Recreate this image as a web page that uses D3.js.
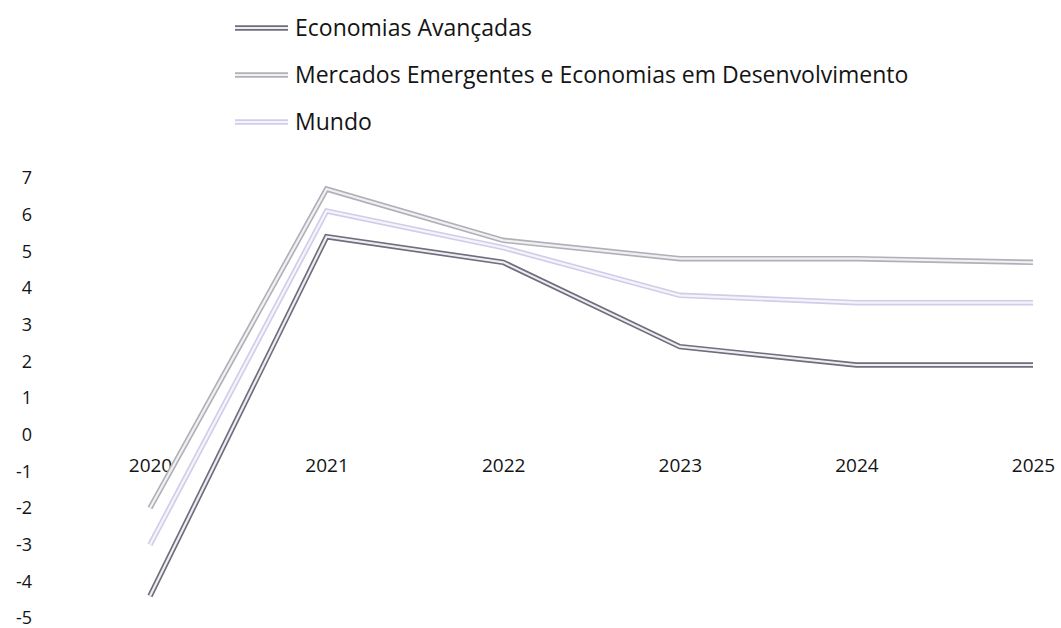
<!DOCTYPE html>
<html>
<head>
<meta charset="utf-8">
<script src="https://cdn.jsdelivr.net/npm/d3@7"></script>
<style>
  html, body { margin: 0; padding: 0; background: #fff; }
  svg { display: block; }
  text { font-family: "Open Sans", "Noto Sans", sans-serif; fill: #141414; }
</style>
</head>
<body>
<svg id="chart" width="1061" height="628"></svg>
<script>
// Crescimento do PIB real (%), 2020–2025
const years = ["2020", "2021", "2022", "2023", "2024", "2025"];
const avancadas = [-4.4, 5.4, 4.7, 2.4, 1.9, 1.9];
const emergentes = [-2.0, 6.7, 5.3, 4.8, 4.8, 4.7];
const mundo = [-3.0, 6.1, 5.1, 3.8, 3.6, 3.6];
const yTicks = [7, 6, 5, 4, 3, 2, 1, 0, -1, -2, -3, -4, -5];
const seriesNames = [
  "Economias Avançadas",
  "Mercados Emergentes e Economias em Desenvolvimento",
  "Mundo"
];

// outer stroke / inner stroke give each series its hollow "double line" look
const seriesStyle = [
  { outer: "#6e6e7c", inner: "#eeeef2" },
  { outer: "#b0b0b8", inner: "#f1f1f3" },
  { outer: "#d2cce8", inner: "#f6f4fb" }
];
const series = [avancadas, emergentes, mundo];

const svg = d3.select("#chart");

const x = d3.scalePoint().domain(years).range([150, 1033]);
const y = d3.scaleLinear().domain([-5, 7]).range([618, 178]);

// y axis: labels only, plain hyphen for negatives
const yAxis = svg.append("g")
  .attr("transform", "translate(40,0)")
  .call(d3.axisLeft(y).tickValues(yTicks).tickSize(0).tickPadding(8).tickFormat(d => String(d)));
yAxis.select(".domain").remove();
yAxis.selectAll("text").style("font-size", "18px").style("font-family", "'Open Sans', sans-serif").attr("fill", "#141414");

// x axis: year labels sit just below the zero line
const xAxis = svg.append("g")
  .attr("transform", `translate(0,${y(0)})`)
  .call(d3.axisBottom(x).tickSize(0).tickPadding(24));
xAxis.select(".domain").remove();
xAxis.selectAll("text").style("font-size", "19px").style("font-family", "'Open Sans', sans-serif").attr("fill", "#141414");

// series lines
const line = d3.line().x((d, i) => x(years[i])).y(d => y(d));
series.forEach((vals, k) => {
  const g = svg.append("g");
  g.append("path").datum(vals).attr("d", line)
    .attr("fill", "none").attr("stroke", seriesStyle[k].outer)
    .attr("stroke-width", 5.5).attr("stroke-linejoin", "miter");
  g.append("path").datum(vals).attr("d", line)
    .attr("fill", "none").attr("stroke", seriesStyle[k].inner)
    .attr("stroke-width", 2.2).attr("stroke-linejoin", "miter");
});

// legend
const legendRows = [28, 75, 122];
seriesNames.forEach((name, k) => {
  const g = svg.append("g").attr("transform", `translate(0,${legendRows[k]})`);
  g.append("line").attr("x1", 235).attr("x2", 288).attr("y1", 0).attr("y2", 0)
    .attr("stroke", seriesStyle[k].outer).attr("stroke-width", 5.5);
  g.append("line").attr("x1", 235).attr("x2", 288).attr("y1", 0).attr("y2", 0)
    .attr("stroke", seriesStyle[k].inner).attr("stroke-width", 2.2);
  g.append("text").attr("x", 295).attr("y", 0).attr("dy", "0.35em")
    .style("font-size", "23px").text(name);
});
</script>
</body>
</html>
